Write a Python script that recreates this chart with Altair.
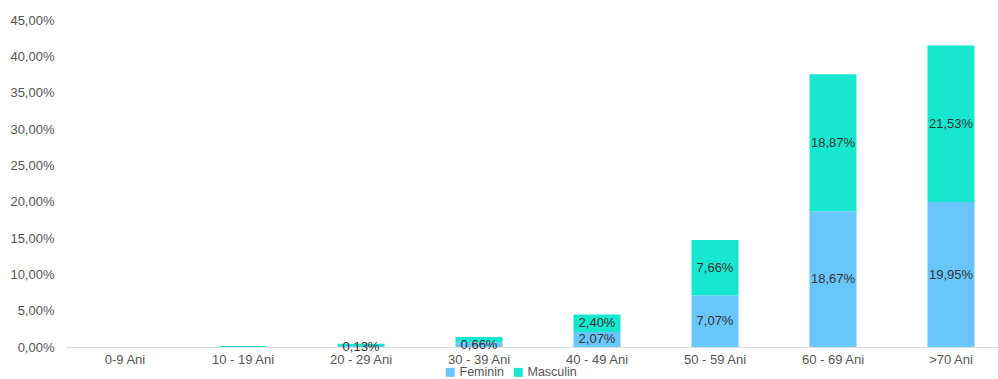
import altair as alt
import pandas as pd

categories = ["0-9 Ani", "10 - 19 Ani", "20 - 29 Ani", "30 - 39 Ani", "40 - 49 Ani", "50 - 59 Ani", "60 - 69 Ani", ">70 Ani"]
feminin = [0.0, 0.0, 0.13, 0.66, 2.07, 7.07, 18.67, 19.95]
masculin = [0.0, 0.15, 0.32, 0.72, 2.40, 7.66, 18.87, 21.53]
feminin_label = [False, False, True, True, True, True, True, True]
masculin_label = [False, False, False, False, True, True, True, True]
series = ["Feminin", "Masculin"]
colors = ["#68C6FD", "#18E7CF"]
y_ticks = [0, 5, 10, 15, 20, 25, 30, 35, 40, 45]

rows = []
for i, c in enumerate(categories):
    rows.append({"cat": c, "series": "Feminin", "order": 0, "value": feminin[i], "show": feminin_label[i]})
    rows.append({"cat": c, "series": "Masculin", "order": 1, "value": masculin[i], "show": masculin_label[i]})
df = pd.DataFrame(rows)

FONT = "Liberation Sans"

x_axis = alt.Axis(labelAngle=0, labelFont=FONT, labelFontSize=13, labelColor="#555555",
                  ticks=False, domainColor="#DDDDDD", labelPadding=6)
x_scale = alt.Scale(paddingInner=0, paddingOuter=0, range=[0, 944])
y_axis = alt.Axis(values=y_ticks, grid=False, domain=False, ticks=False, labelOverlap=False,
                  labelFont=FONT, labelFontSize=13, labelColor="#555555", labelPadding=12,
                  labelExpr="replace(format(datum.value, '.2f'), '.', ',') + '%'")
y_scale = alt.Scale(domain=[0, 45], nice=False)

base = alt.Chart(df).transform_stack(
    stack="value", groupby=["cat"], as_=["v0", "v1"], sort=[alt.SortField("order")]
).transform_calculate(mid="(datum.v0 + datum.v1) / 2")

bars = base.mark_bar(size=47).encode(
    x=alt.X("cat:N", sort=categories, title=None, scale=x_scale, axis=x_axis),
    y=alt.Y("v0:Q", title=None, scale=y_scale, axis=y_axis),
    y2="v1:Q",
    color=alt.Color("series:N", sort=series,
                    scale=alt.Scale(domain=series, range=colors),
                    legend=alt.Legend(title=None, orient="none", direction="horizontal",
                                      legendX=378, legendY=346, symbolType="square", symbolSize=80,
                                      symbolStrokeWidth=0, labelFont=FONT, labelFontSize=12.5,
                                      labelColor="#555555", columnPadding=8, labelOffset=3)),
)

labels = base.transform_filter("datum.show").transform_calculate(
    txt="replace(format(datum.value, '.2f'), '.', ',') + '%'"
).mark_text(font=FONT, fontSize=13, color="#333333", baseline="middle").encode(
    x=alt.X("cat:N", sort=categories, title=None, scale=x_scale, axis=x_axis),
    y=alt.Y("mid:Q", title=None, scale=y_scale, axis=y_axis),
    text="txt:N",
)

chart = alt.layer(bars, labels).properties(
    width=932, height=327,
    padding={"left": 66, "top": 20, "right": 0, "bottom": 32},
    autosize=alt.AutoSizeParams(type="none"),
).configure(background="white", view=alt.ViewConfig(stroke=None))

chart.save("out.html", embed_options={"renderer": "svg", "actions": False})
